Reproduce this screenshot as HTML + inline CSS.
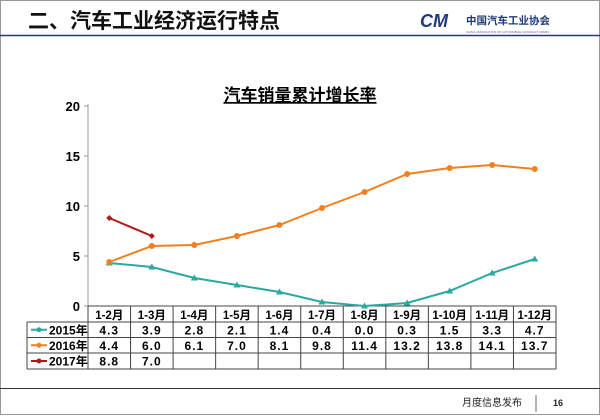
<!DOCTYPE html>
<html><head><meta charset="utf-8"><style>
body{margin:0;background:#fff;}
svg text{font-family:"Liberation Sans","Noto Sans CJK SC",sans-serif;}
</style></head><body>
<svg width="600" height="415" viewBox="0 0 600 415">
<rect x="0" y="0" width="600" height="415" fill="#fff"/>
<rect x="0.5" y="0.5" width="599" height="414" fill="none" stroke="#999"/>
<text x="28" y="28" font-size="21" font-weight="bold" fill="#111">二、汽车工业经济运行特点</text>
<g>
<text x="420" y="27" font-size="18" font-weight="bold" font-style="italic" fill="#1f3a7a">CM</text>
<text x="466" y="24" font-size="10.5" font-weight="bold" fill="#1f3a7a">中国汽车工业协会</text>
<text x="466" y="33" font-size="3" fill="#666">CHINA ASSOCIATION OF AUTOMOBILE MANUFACTURERS</text>
</g>
<line x1="0" y1="35.5" x2="600" y2="35.5" stroke="#1f3a7a" stroke-width="1.5"/>
<text x="300" y="101" text-anchor="middle" font-size="17" font-weight="bold" text-decoration="underline" fill="#000">汽车销量累计增长率</text>
<line x1="88" y1="104" x2="88" y2="306" stroke="#999"/>
<g id="yt"></g>
<g id="table"></g>
<g id="series"></g>
<line x1="0" y1="388.5" x2="600" y2="388.5" stroke="#333"/>
<text x="462" y="406" font-size="10" fill="#222">月度信息发布</text>
<line x1="536" y1="395" x2="536" y2="412" stroke="#666"/>
<text x="553" y="406" font-size="9" font-weight="bold" fill="#222">16</text>
</svg>
<script>
const categories=["1-2月","1-3月","1-4月","1-5月","1-6月","1-7月","1-8月","1-9月","1-10月","1-11月","1-12月"];
const s2015=[4.3,3.9,2.8,2.1,1.4,0.4,0.0,0.3,1.5,3.3,4.7];
const s2016=[4.4,6.0,6.1,7.0,8.1,9.8,11.4,13.2,13.8,14.1,13.7];
const s2017=[8.8,7.0];
const yTicks=[0,5,10,15,20];
const seriesNames=["2015年","2016年","2017年"];
const NS="http://www.w3.org/2000/svg";
const x0=88,x1=556,cw=(x1-x0)/categories.length;
const X=i=>x0+cw*(i+0.5);
const Y=v=>306-v*10;
function mk(tag,attrs,parent,txt){const e=document.createElementNS(NS,tag);for(const k in attrs)e.setAttribute(k,attrs[k]);if(txt!=null)e.textContent=txt;parent.appendChild(e);return e;}
const yt=document.getElementById('yt');
yTicks.forEach(v=>{
 const t=mk('line',{x1:84,x2:88,y1:Y(v),y2:Y(v),stroke:'#999'},yt);
 
 
 const l=mk('text',{x:80,y:Y(v)+5,'text-anchor':'end','font-size':13,'font-weight':'bold'},yt,String(v));
 
 
});
const tb=document.getElementById('table');
const rows=[306,322,337.5,353,369];
const colors=['#2aa9a0','#f08020','#b01818'];
const vals=[s2015,s2016,s2017];
mk('line',{x1:x0,x2:x1,y1:306,y2:306,stroke:'#444'},tb);
for(let r=1;r<5;r++){mk('line',{x1:27,x2:x1,y1:rows[r],y2:rows[r],stroke:'#444'},tb);}
mk('line',{x1:27,x2:27,y1:322,y2:369,stroke:'#444'},tb);
for(let c=0;c<=categories.length;c++){mk('line',{x1:x0+cw*c,x2:x0+cw*c,y1:306,y2:369,stroke:'#444'},tb);}
categories.forEach((c,i)=>{
 const t=mk('text',{x:X(i),y:319,'text-anchor':'middle','font-size':11.5,'font-weight':'bold'},tb,c);
 
 
});
vals.forEach((arr,s)=>{
 const cy=(rows[s+1]+rows[s+2])/2;
 const lg=mk('g',{},tb);
 
 
 mk('line',{x1:31,x2:47,y1:cy,y2:cy,stroke:colors[s],'stroke-width':2},lg);
 mk('circle',{cx:39,cy:cy,r:2.5,fill:colors[s]},lg);
 mk('text',{x:49,y:cy+4.5,'font-size':12,'font-weight':'bold'},lg,seriesNames[s]);
 arr.forEach((v,i)=>{
  const t=mk('text',{x:X(i),y:cy+4.5,'text-anchor':'middle','font-size':12,'font-weight':'bold','letter-spacing':'1'},tb,v.toFixed(1));
  
  
 });
});
const sg=document.getElementById('series');
vals.forEach((arr,s)=>{
 const g=mk('g',{},sg);
 
 
 mk('polyline',{points:arr.map((v,i)=>X(i)+','+Y(v)).join(' '),fill:'none',stroke:colors[s],'stroke-width':2},g);
 arr.forEach((v,i)=>{
  let m;
  if(s===0)m=mk('polygon',{points:`${X(i)},${Y(v)-3.5} ${X(i)-3.5},${Y(v)+2.5} ${X(i)+3.5},${Y(v)+2.5}`,fill:colors[s]},g);
  else if(s===1)m=mk('circle',{cx:X(i),cy:Y(v),r:3,fill:colors[s]},g);
  else m=mk('polygon',{points:`${X(i)},${Y(v)-3} ${X(i)+3},${Y(v)} ${X(i)},${Y(v)+3} ${X(i)-3},${Y(v)}`,fill:colors[s]},g);
  
  
 });
});
</script>
</body></html>
